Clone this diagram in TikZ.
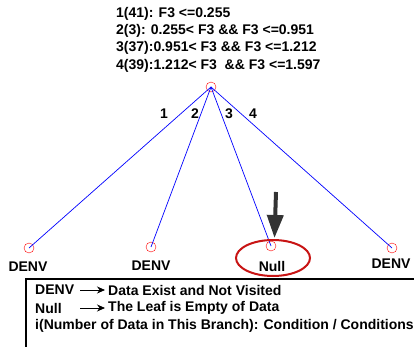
\documentclass[tikz,border=0pt]{standalone}
\usepackage{fontspec}
\setmainfont{Liberation Sans}
\usetikzlibrary{arrows.meta,shapes.geometric}
\definecolor{ellred}{RGB}{200,20,20}
\begin{document}
\begin{tikzpicture}[x=1pt,y=-1pt,
  txt/.style={font=\fontsize{14}{16}\selectfont\bfseries, inner sep=0pt},
  leaf/.style={circle, draw=red, minimum size=10pt, inner sep=0pt},
  branch/.style={draw=blue, line width=0.7pt},
  blabel/.style={txt}
]
\useasboundingbox (0,0) rectangle (414,347);
% header conditions
\node[txt, anchor=west] (c1) at (116,14) {1(41): F3 <=0.255};
\node[txt, anchor=west] (c2) at (116,31) {2(3): 0.255< F3 \&\& F3 <=0.951};
\node[txt, anchor=west] (c3) at (116,48) {3(37):0.951< F3 \&\& F3 <=1.212};
\node[txt, anchor=west] (c4) at (116,66) {4(39):1.212< F3 \ \&\& F3 <=1.597};
% root and leaves
\node[leaf] (root) at (211,87) {};
\node[leaf] (l1) at (29,248) {};
\node[leaf] (l2) at (151,247) {};
\node[leaf] (l3) at (271,246) {};
\node[leaf] (l4) at (392,248) {};
\draw[branch] (root.center) -- (l1.center);
\draw[branch] (root.center) -- (l2.center);
\draw[branch] (root.center) -- (l3.center);
\draw[branch] (root.center) -- (l4.center);
\node[blabel] (b1) at (164,114) {1};
\node[blabel] (b2) at (195,114) {2};
\node[blabel] (b3) at (229,114) {3};
\node[blabel] (b4) at (253,114) {4};
% leaf labels
\node[txt] (t1) at (28,267) {DENV};
\node[txt] (t2) at (151,266) {DENV};
\node[txt] (t3) at (272,266) {Null};
\node[txt] (t4) at (391,264) {DENV};
\node[ellipse, draw=ellred, line width=2pt, minimum width=74pt, minimum height=36pt, inner sep=0pt] (ell) at (273,258) {};
% big arrow
\coordinate (atop) at (276,192);
\draw[line width=4pt, -{Triangle[width=16pt,length=23pt]}, black!80] (atop) -- (274.5,238);
% legend box
\coordinate (bxtl) at (26,279);
\coordinate (bxtr) at (414,279);
\coordinate (bxbl) at (26,347);
\draw[line width=1.2pt] (bxtr) -- (bxtl) -- (bxbl);
\node[txt, anchor=west] (d1) at (35,290) {DENV};
\node[txt, anchor=west] (d2) at (35,308) {Null};
\node[txt, anchor=west] (d3) at (35,326) {i(Number of Data in This Branch): Condition / Conditions};
\coordinate (a1s) at (80,290); \coordinate (a1e) at (105,290);
\coordinate (a2s) at (80,308); \coordinate (a2e) at (105,308);
\draw[line width=0.8pt, -{Stealth[length=8pt,width=7pt]}] (a1s) -- (a1e);
\draw[line width=0.8pt, -{Stealth[length=8pt,width=7pt]}] (a2s) -- (a2e);
\node[txt, anchor=west] (e1) at (108,290) {Data Exist and Not Visited};
\node[txt, anchor=west] (e2) at (108,308) {The Leaf is Empty of Data};
\end{tikzpicture}
\end{document}
